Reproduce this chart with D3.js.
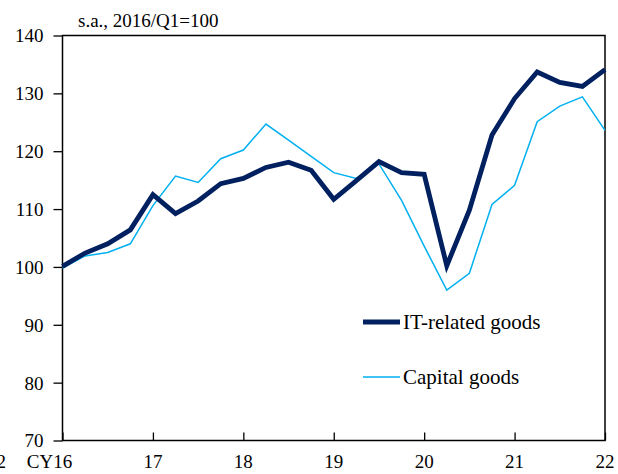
<!DOCTYPE html>
<html>
<head>
    <style type="text/css">
        body { margin: 0; background: #fff; }
        svg text {
            font-family: 'Liberation Serif', 'DejaVu Serif', serif;
            fill: #000;
        }
    </style>
    <script src="https://d3js.org/d3.v7.min.js"></script>
</head>
<body>
    <svg id="mySvg" width="618" height="474"></svg>
</body>
<script type="text/javascript">
// quarterly index, 2016/Q1 = 100, from CY16/Q1 to CY22/Q1
const quarters = d3.range(25);  // 0 = 2016Q1
const itGoods = [100.1, 102.4, 104.0, 106.4, 112.5, 109.2, 111.4, 114.4, 115.3, 117.2,
                 118.1, 116.7, 111.7, 114.9, 118.2, 116.3, 116.0, 100.2, 109.8, 122.8,
                 129.1, 133.7, 131.9, 131.2, 134.1];
const capitalGoods = [99.8, 101.9, 102.5, 104.0, 110.6, 115.7, 114.6, 118.7, 120.2, 124.7,
                      121.9, 119.1, 116.3, 115.3, 117.8, 111.5, 103.6, 96.0, 98.9, 110.8,
                      114.1, 125.1, 127.8, 129.4, 123.6];
const yearTicks = [0, 4, 8, 12, 16, 20, 24];
const yearLabels = ['CY16', '17', '18', '19', '20', '21', '22'];
const yTicks = [70, 80, 90, 100, 110, 120, 130, 140];

const plotLeft = 62.5, plotRight = 605, plotTop = 35.5, plotBottom = 440.5;
const serif = "'Liberation Serif', 'DejaVu Serif', serif";

const svg = d3.select('#mySvg');

const x = d3.scaleLinear().domain([0, 24]).range([plotLeft, plotRight]);
const y = d3.scaleLinear().domain([70, 140]).range([plotBottom, plotTop]);

// y axis with outside ticks
const yAxis = svg.append('g')
    .attr('transform', 'translate(' + plotLeft + ',0)')
    .call(d3.axisLeft(y).tickValues(yTicks).tickSize(9).tickPadding(10));
yAxis.attr('font-family', serif).attr('font-size', 19);
yAxis.select('.domain').remove();
yAxis.selectAll('line').attr('stroke', '#000').attr('stroke-width', 1.3);
yAxis.selectAll('text').attr('dy', '0.34em');

// x axis: ticks pointing up inside the frame
const xAxis = svg.append('g')
    .attr('transform', 'translate(0,' + plotBottom + ')')
    .call(d3.axisBottom(x).tickValues(yearTicks).tickSize(-8).tickFormat(''));
xAxis.select('.domain').remove();
xAxis.selectAll('line').attr('stroke', '#000').attr('stroke-width', 1.3);

svg.append('g').selectAll('text')
    .data(yearTicks)
    .enter()
    .append('text')
    .attr('x', (d, i) => i === 0 ? x(d) - 13 : x(d))
    .attr('y', 468)
    .attr('text-anchor', 'middle')
    .attr('font-family', serif)
    .attr('font-size', 19)
    .text((d, i) => yearLabels[i]);

// clipped label at the far left edge
svg.append('text')
    .attr('x', 6).attr('y', 468)
    .attr('text-anchor', 'end')
    .attr('font-family', serif)
    .attr('font-size', 19)
    .text('2');

// frame
svg.append('rect')
    .attr('x', plotLeft).attr('y', plotTop)
    .attr('width', plotRight - plotLeft).attr('height', plotBottom - plotTop)
    .attr('fill', 'none')
    .attr('stroke', '#000')
    .attr('stroke-width', 1.5);

svg.append('text')
    .attr('x', 78).attr('y', 27)
    .attr('font-family', serif)
    .attr('font-size', 19)
    .text('s.a., 2016/Q1=100');

const line = d3.line().x((d, i) => x(quarters[i])).y(d => y(d));

svg.append('path')
    .datum(capitalGoods)
    .attr('d', line)
    .attr('fill', 'none')
    .attr('stroke', '#00b0f0')
    .attr('stroke-width', 1.5);

svg.append('path')
    .datum(itGoods)
    .attr('d', line)
    .attr('fill', 'none')
    .attr('stroke', '#002060')
    .attr('stroke-width', 4.8)
    .attr('stroke-linejoin', 'miter');

// legend
const legend = [
    { name: 'IT-related goods', color: '#002060', width: 4.8, y: 322 },
    { name: 'Capital goods', color: '#00b0f0', width: 1.5, y: 377 }
];
const lg = svg.append('g').selectAll('g')
    .data(legend)
    .enter()
    .append('g');
lg.append('line')
    .attr('x1', 363).attr('x2', 400)
    .attr('y1', d => d.y).attr('y2', d => d.y)
    .attr('stroke', d => d.color)
    .attr('stroke-width', d => d.width);
lg.append('text')
    .attr('x', 403).attr('y', d => d.y + 7)
    .attr('font-family', serif)
    .attr('font-size', 21)
    .text(d => d.name);
</script>
</html>
